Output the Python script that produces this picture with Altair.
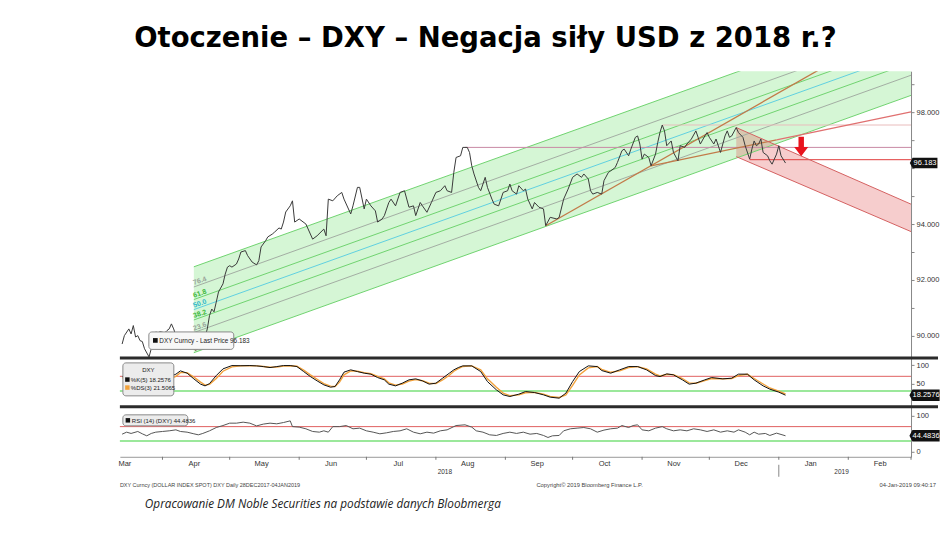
import altair as alt
import pandas as pd
from datetime import datetime, timedelta, timezone

# ---------------- values ----------------
BASE = datetime(2018, 3, 13, tzinfo=timezone.utc)   # left edge of the view (day 0)
END_DAY = 353                                         # right edge (1 Mar 2019)

TITLE = "Otoczenie – DXY – Negacja siły USD z 2018 r.?"
NOTE = "Opracowanie DM Noble Securities  na podstawie danych Bloobmerga"
FOOT_LEFT = "DXY Curncy (DOLLAR INDEX SPOT) DXY  Daily 28DEC2017-04JAN2019"
FOOT_MID = "Copyright© 2019 Bloomberg Finance L.P."
FOOT_RIGHT = "04-Jan-2019 09:40:17"

# DXY close: (days after 13 Mar 2018, price)
price_points = [
    (1, 89.71), (2, 90.01), (4, 90.25), (5, 90.07), (6, 90.37), (7, 89.96), (8, 90.01), (9, 89.83),
    (10, 89.80), (11, 89.54), (13, 89.25), (14, 89.54), (15, 90.01), (16, 90.14), (17, 90.11),
    (18, 90.15), (20, 90.11), (21, 90.19), (22, 90.25), (23, 90.43), (24, 90.25), (25, 90.01),
    (27, 89.83), (28, 89.65), (30, 89.61), (31, 89.65), (33, 89.54), (34, 89.48), (36, 89.65),
    (37, 89.61), (38, 89.96), (39, 90.25), (40, 90.73), (41, 90.96), (42, 90.86), (43, 91.21),
    (44, 91.57), (46, 91.86), (47, 92.21), (48, 92.46), (49, 92.51), (50, 92.46), (52, 92.57),
    (53, 92.75), (54, 93.00), (56, 93.05), (57, 92.87), (59, 92.64), (61, 92.54), (62, 92.69),
    (63, 93.18), (65, 93.40), (66, 93.54), (68, 93.64), (69, 93.71), (71, 93.86), (72, 93.82),
    (73, 94.07), (74, 94.43), (76, 94.65), (77, 94.83),
    (78, 94.07), (80, 94.18), (83, 94.00), (86, 93.46), (88, 93.58), (91, 93.82), (92, 93.58),
    (93, 94.89), (95, 94.83), (97, 95.01), (99, 95.13), (100, 94.89), (103, 94.36), (104, 94.65),
    (106, 95.31), (107, 95.31), (109, 94.54), (110, 94.89), (112, 94.65), (114, 94.47),
    (115, 94.07), (117, 94.18), (118, 94.30), (120, 94.77), (121, 94.89), (123, 94.65),
    (125, 95.13), (127, 95.19), (129, 94.60), (131, 94.65), (132, 94.30), (134, 94.77),
    (135, 94.65), (137, 94.42), (139, 94.77), (141, 95.13), (143, 95.19), (145, 95.37),
    (146, 95.19), (148, 95.13), (149, 95.85), (150, 96.38), (152, 96.44), (153, 96.74),
    (155, 96.74), (156, 96.56), (157, 96.08), (158, 95.79), (160, 95.31), (161, 95.19),
    (163, 95.67), (164, 95.31), (166, 94.89), (167, 94.71), (169, 94.65), (171, 95.13),
    (173, 95.19), (174, 95.43), (175, 95.19), (177, 95.07), (178, 95.37), (180, 95.19),
    (181, 95.25), (182, 94.89), (184, 94.54), (185, 94.77), (187, 94.60), (189, 94.54),
    (190, 93.94), (192, 94.24), (195, 94.18), (196, 94.24), (198, 94.89), (200, 95.25),
    (202, 95.67), (204, 95.79), (206, 95.67), (207, 95.79), (209, 95.61), (210, 95.19),
    (211, 95.07), (213, 95.13), (215, 95.07), (216, 95.55), (218, 95.85), (219, 95.90),
    (221, 96.02), (222, 96.20), (224, 96.62), (225, 96.68), (227, 96.44), (228, 96.68),
    (230, 97.10), (231, 97.15), (232, 96.86), (233, 96.32), (234, 96.50), (236, 96.38),
    (237, 96.08), (239, 96.50), (240, 96.92), (241, 97.28), (242, 97.54), (243, 97.33),
    (244, 96.80), (246, 96.97), (247, 96.56), (249, 96.26), (250, 96.80), (252, 96.74),
    (253, 96.86), (255, 97.04), (257, 97.33), (258, 97.10), (259, 96.86), (261, 97.15),
    (262, 97.27), (263, 97.10), (265, 96.86), (266, 97.04), (268, 96.56), (270, 97.15),
    (271, 97.33), (272, 97.10), (273, 97.15), (275, 97.45), (276, 97.27), (278, 97.10),
    (279, 96.80), (281, 96.32), (282, 96.68), (283, 96.97), (284, 96.80), (285, 96.86),
    (286, 97.04), (287, 96.56), (289, 96.44), (290, 96.26), (291, 96.14), (293, 96.50),
    (294, 96.80), (295, 96.44), (297, 96.18),
]
LAST_PRICE = "96.183"
LAST_PRICE_VALUE = 96.183

# Stochastic %K(5) and %DS(3)
stoch_days = [1, 7, 13, 19, 25, 27, 30, 33, 36, 38, 40, 43, 46, 50, 54, 58, 61, 64, 67, 70, 73, 76,
              79, 82, 85, 88, 91, 94, 96, 98, 100, 103, 106, 109, 112, 115, 118, 120, 123, 126,
              129, 132, 135, 138, 141, 144, 147, 149, 151, 153, 157, 161, 164, 168, 171, 174,
              178, 181, 185, 189, 192, 196, 199, 202, 205, 209, 213, 215, 219, 223, 227, 231,
              235, 239, 241, 244, 247, 251, 254, 257, 261, 264, 269, 273, 276, 280, 283, 287,
              290, 294, 297]
stoch_k = [70, 58, 40, 62, 75.9, 84.9, 78.6, 63, 48.5, 43.8, 50, 72, 90.4, 99.5, 99, 99.5, 98.6,
           96.7, 94, 96.7, 99.5, 99.5, 96.7, 83, 69.3, 57.5, 46.6, 40.2, 42, 60.3, 81.4, 87.7, 83,
           78.6, 75.9, 66.6, 60.3, 48.5, 43.8, 51.2, 60.3, 63, 57.5, 48.5, 51.2, 64.9, 78.6, 87.7,
           94, 98.6, 98.6, 83, 55.6, 32.9, 19.2, 14.6, 21, 28.2, 25.5, 19.2, 12.8, 10.1, 23.8,
           55.6, 83, 98.6, 96.7, 85.8, 78.6, 87.7, 96.7, 96.7, 87.7, 72, 69.3, 76.7, 74, 60.3,
           48.5, 51.2, 60.3, 66.6, 63, 64.9, 75.9, 75.9, 60.3, 43.8, 34.8, 26.6, 18.26]
stoch_d = [66, 62, 48, 55, 70, 80, 80, 68, 54, 46, 48, 64, 84, 96, 99, 99, 98.5, 97, 95, 95.5, 98,
           99, 97.5, 87, 74, 62, 50, 43, 42, 54, 74, 85, 84, 80, 77, 70, 63, 52, 46, 49, 57, 61,
           58, 51, 50, 60, 73, 84, 91, 97, 98.5, 88, 63, 40, 24, 17, 19, 25, 26, 21, 15, 12, 19,
           45, 74, 93, 97, 89, 81, 85, 94, 96.5, 90, 76, 71, 75, 74.5, 64, 52, 51, 58, 64, 63.5,
           64, 72, 75.5, 64, 49, 38, 29, 21.51]
STOCH_K_LAST = "18.2576"
STOCH_D_LAST = "21.5065"
STOCH_K_LAST_VALUE = 18.2576
STOCH_LEVELS = [70, 30]

# RSI(14)
rsi_points = [
    (1, 49), (3, 54.6), (5, 51), (8, 56.5), (10, 50), (12, 44.4), (14, 51), (16, 54.6), (19, 56.5),
    (22, 58.3), (25, 61), (27, 56.5), (30, 54.6), (33, 50), (35, 47.2), (37, 51), (40, 58.3),
    (43, 67.5), (46, 73), (49, 79.6), (52, 79.6), (55, 82.4), (58, 79.6), (61, 72), (64, 77),
    (67, 79.6), (70, 77.8), (73, 81.4), (76, 86), (77, 70), (80, 68.6), (83, 63.9), (86, 56.5),
    (89, 54.6), (91, 58.3), (93, 54.6), (95, 70), (98, 70), (101, 73), (104, 63.9), (107, 65.8),
    (110, 58.3), (113, 54.6), (116, 50), (119, 52.8), (122, 56.5), (125, 58.3), (128, 63.9),
    (131, 54.6), (134, 50), (137, 54.6), (140, 51.9), (143, 58.3), (146, 61), (149, 70),
    (150, 73), (154, 75), (157, 68.6), (159, 58.3), (162, 54.6), (165, 47.2), (168, 45.4),
    (171, 51), (174, 54.6), (177, 51), (180, 54.6), (183, 49), (186, 51), (189, 45.4),
    (191, 39.8), (193, 44.4), (196, 45.4), (198, 58.3), (201, 63.9), (204, 65.8), (207, 67.5),
    (210, 63.9), (213, 54.6), (216, 60.3), (219, 63.9), (222, 65.8), (224, 73), (227, 67.5),
    (229, 73), (231, 75), (233, 61), (236, 58.3), (239, 65.8), (242, 70), (244, 63.9),
    (247, 58.3), (250, 61), (253, 58.3), (256, 63.9), (259, 61), (262, 56.5), (265, 61),
    (268, 54.6), (271, 58.3), (274, 54.6), (276, 61), (279, 54.6), (281, 47.2), (283, 54.6),
    (285, 49), (288, 51), (290, 45.4), (293, 51.9), (297, 44.48),
]
RSI_LAST = "44.4836"
RSI_LAST_VALUE = 44.4836
RSI_LEVELS = [70, 30]

# Green regression channel with Fibonacci levels
fib_labels = ["0.0", "23.6", "38.2", "50.0", "61.8", "76.4", "100"]
fib_start_day = 33
fib_end_day = 353
fib_start_price = [89.40, 90.12, 90.57, 90.94, 91.30, 91.75, 92.47]
fib_end_price = [98.60, 99.32, 99.77, 100.14, 100.50, 100.95, 101.67]

# Trend lines: start day, start price, end day, end price
trend_start_day = [190, 237, 293]
trend_start_price = [93.94, 96.08, 97.01]
trend_end_day = [353, 293, 353]
trend_end_price = [101.39, 97.01, 98.01]

# Horizontal levels: from day to right edge
level_day = [154, 242, 281]
level_price = [96.74, 97.54, 96.30]

# Red falling channel
red_days = [275, 353]
red_upper = [97.45, 94.71]
red_lower = [96.41, 93.73]

ARROW_DAY = 304
ARROW_PRICE = 96.77

# axis text
month_mid = [(2018, 3), (2018, 4), (2018, 5), (2018, 6), (2018, 7), (2018, 8), (2018, 9),
             (2018, 10), (2018, 11), (2018, 12), (2019, 1), (2019, 2)]
month_start = [(2018, 4), (2018, 5), (2018, 6), (2018, 7), (2018, 8), (2018, 9), (2018, 10),
               (2018, 11), (2018, 12), (2019, 1), (2019, 2), (2019, 3)]
year_labels = ["2018", "2019"]
year_label_day = [145, 322]
YEAR_BREAK = (2019, 1)

# ---------------- styles ----------------
W = 792
H_MAIN, H_STO, H_RSI = 287, 49, 50
AXIS_FONT = "Liberation Sans"
fib_colors = ["#6fd36f", "#a3ada3", "#6fd36f", "#5fd0e0", "#6fd36f", "#a3ada3", "#6fd36f"]
fib_label_colors = ["#e08a3c", "#9aa49a", "#3cb83c", "#2fb8cc", "#3cb83c", "#9aa49a", "#ffffff"]
trend_colors = ["#c27a48", "#c27a48", "#e07070"]
level_colors = ["#c98aa5", "#e9bcbc", "#e03c3c"]


def iso(day):
    return (BASE + timedelta(days=day)).strftime("%Y-%m-%dT%H:%M:%SZ")


def ms(dt):
    return int(dt.timestamp() * 1000)


xscale = alt.Scale(type="utc", domain=[ms(BASE), ms(BASE + timedelta(days=END_DAY))])
X_NONE = dict(scale=xscale, axis=None, title=None)

one = pd.DataFrame({"k": [0]})

# ---------------- main panel ----------------
ymain = alt.Scale(domain=[89.214, 99.464], nice=False, zero=False)
ax_main = alt.Axis(orient="right", values=list(range(89, 100)),
                   labelExpr="(datum.value % 2 == 0 && datum.value != 96) ? format(datum.value, '.3f') : ''",
                   tickSize=3, labelFontSize=7.5, labelPadding=2, grid=False, labelOverlap=False,
                   domainColor="#888", tickColor="#888", labelColor="#333", labelFont=AXIS_FONT,
                   title=None)


def YM(field):
    return alt.Y(field, scale=ymain, axis=ax_main, title=None)


green_df = pd.DataFrame({"t": [iso(fib_start_day), iso(fib_end_day)],
                         "lo": [fib_start_price[0], fib_end_price[0]],
                         "hi": [fib_start_price[-1], fib_end_price[-1]]})
green_area = alt.Chart(green_df).mark_area(clip=True, color="#d5f6d5", opacity=1).encode(
    x=alt.X("t:T", **X_NONE), y=YM("lo:Q"), y2="hi:Q")

red_df = pd.DataFrame({"t": [iso(d) for d in red_days], "lo": red_lower, "hi": red_upper})
red_area = alt.Chart(red_df).mark_area(clip=True, color="#e05a5a", opacity=0.3).encode(
    x=alt.X("t:T", **X_NONE), y=YM("lo:Q"), y2="hi:Q")

fib_df = pd.DataFrame({"t0": iso(fib_start_day), "t1": iso(fib_end_day),
                       "p0": fib_start_price, "p1": fib_end_price, "c": fib_colors})
fib_lines = alt.Chart(fib_df).mark_rule(clip=True, strokeWidth=1).encode(
    x=alt.X("t0:T", **X_NONE), x2="t1:T", y=YM("p0:Q"), y2="p1:Q",
    color=alt.Color("c:N", scale=None))

lvl_df = pd.DataFrame({"t0": [iso(d) for d in level_day], "t1": iso(END_DAY),
                       "p": level_price, "c": level_colors})
lvl_lines = alt.Chart(lvl_df).mark_rule(clip=True, strokeWidth=1).encode(
    x=alt.X("t0:T", **X_NONE), x2="t1:T", y=YM("p:Q"), color=alt.Color("c:N", scale=None))

trend_df = pd.DataFrame({"t0": [iso(d) for d in trend_start_day], "p0": trend_start_price,
                         "t1": [iso(d) for d in trend_end_day], "p1": trend_end_price,
                         "c": trend_colors})
trend_lines = alt.Chart(trend_df).mark_rule(clip=True, strokeWidth=1.3).encode(
    x=alt.X("t0:T", **X_NONE), x2="t1:T", y=YM("p0:Q"), y2="p1:Q",
    color=alt.Color("c:N", scale=None))

red_edge_df = pd.DataFrame({"t0": iso(red_days[0]), "t1": iso(red_days[1]),
                            "p0": [red_upper[0], red_lower[0]], "p1": [red_upper[1], red_lower[1]]})
red_edges = alt.Chart(red_edge_df).mark_rule(clip=True, strokeWidth=1, color="#d46060").encode(
    x=alt.X("t0:T", **X_NONE), x2="t1:T", y=YM("p0:Q"), y2="p1:Q")

price_df = pd.DataFrame({"t": [iso(d) for d, _ in price_points], "v": [v for _, v in price_points]})
price_line = alt.Chart(price_df).mark_line(color="#3a3a3a", strokeWidth=1).encode(
    x=alt.X("t:T", **X_NONE), y=YM("v:Q"))

fl_df = pd.DataFrame({"t": iso(fib_start_day + 0.4), "p": fib_start_price[:-1],
                      "label": fib_labels[:-1], "c": fib_label_colors[:-1]})
fib_text = alt.Chart(fl_df).mark_text(align="left", baseline="bottom", angle=341, fontSize=7,
                                      dy=-1, font=AXIS_FONT, fontWeight="bold").encode(
    x=alt.X("t:T", **X_NONE), y=YM("p:Q"), text="label:N", color=alt.Color("c:N", scale=None))

ARROW_PATH = "M-0.28,-1 L0.28,-1 L0.28,0.05 L0.72,0.05 L0,1 L-0.72,0.05 L-0.28,0.05 Z"
arrow_df = pd.DataFrame({"t": [iso(ARROW_DAY)], "p": [ARROW_PRICE]})
arrow = alt.Chart(arrow_df).mark_point(shape=ARROW_PATH, size=380, filled=True, color="#e8141e",
                                       opacity=1).encode(x=alt.X("t:T", **X_NONE), y=YM("p:Q"))

BOX_PATH = "M-1.22,0 L-1,-0.42 L1,-0.42 L1,0.42 L-1,0.42 Z"
pbox_df = pd.DataFrame({"p": [LAST_PRICE_VALUE], "label": [LAST_PRICE]})
pbox = alt.Chart(pbox_df).mark_point(shape=BOX_PATH, size=620, filled=True, color="#111",
                                     opacity=1).encode(x=alt.value(W + 14), y=YM("p:Q"))
pbox_text = alt.Chart(pbox_df).mark_text(color="white", fontSize=7.5, font=AXIS_FONT).encode(
    x=alt.value(W + 14), y=YM("p:Q"), text="label:N")

leg_box = alt.Chart(one).mark_rect(cornerRadius=3, fill="#f7f7f7", stroke="#8a8a8a",
                                   strokeWidth=1).encode(
    x=alt.value(29), x2=alt.value(114), y=alt.value(261), y2=alt.value(278.5))
leg_sq = alt.Chart(one).mark_square(size=22, color="#111", opacity=1).encode(
    x=alt.value(35.5), y=alt.value(269.5))
leg_txt = alt.Chart(one).mark_text(text="DXY Curncy - Last Price  " + LAST_PRICE, align="left",
                                   fontSize=6.4, font=AXIS_FONT, color="#222").encode(
    x=alt.value(39.5), y=alt.value(270))

title = alt.Chart(one).mark_text(text=TITLE, fontSize=27.5, fontWeight="bold", font="DejaVu Sans",
                                 align="center", baseline="middle", color="#000").encode(
    x=alt.value(366), y=alt.value(-32))

main = alt.layer(green_area, red_area, fib_lines, lvl_lines, trend_lines, red_edges, price_line,
                 fib_text, arrow, leg_box, leg_sq, leg_txt, pbox, pbox_text, title).properties(
    width=W, height=H_MAIN)

# ---------------- stochastic panel ----------------
ysto = alt.Scale(domain=[-13.7, 120.5], nice=False, zero=False)
ax_sto = alt.Axis(orient="right", values=[50, 100], tickSize=3, labelFontSize=7.5, labelPadding=2,
                  grid=False, domainColor="#888", tickColor="#888", labelColor="#333",
                  labelFont=AXIS_FONT, title=None)


def YS(field):
    return alt.Y(field, scale=ysto, axis=ax_sto, title=None)


sto_lvl = alt.Chart(pd.DataFrame({"v": STOCH_LEVELS, "c": ["#e06060", "#9be89b"],
                                  "w": [1, 2]})).mark_rule().encode(
    y=YS("v:Q"), color=alt.Color("c:N", scale=None), strokeWidth=alt.StrokeWidth("w:Q", scale=None))
sto_df = pd.DataFrame({"t": [iso(d) for d in stoch_days], "k": stoch_k, "d": stoch_d})
sto_d_line = alt.Chart(sto_df).mark_line(color="#f2a23c", strokeWidth=1.4).encode(
    x=alt.X("t:T", **X_NONE), y=YS("d:Q"))
sto_k_line = alt.Chart(sto_df).mark_line(color="#111", strokeWidth=1).encode(
    x=alt.X("t:T", **X_NONE), y=YS("k:Q"))
sto_bar = alt.Chart(one).mark_rule(strokeWidth=3, color="#2b2b2b").encode(
    x=alt.value(0), x2=alt.value(W + 27), y=alt.value(0))
sto_box = alt.Chart(one).mark_rect(cornerRadius=3, fill="#ececec", stroke="#8a8a8a").encode(
    x=alt.value(3), x2=alt.value(54), y=alt.value(5), y2=alt.value(38))
sto_t0 = alt.Chart(one).mark_text(text="DXY", fontSize=6, font=AXIS_FONT, color="#222").encode(
    x=alt.value(28.5), y=alt.value(12.5))
sto_sq = alt.Chart(pd.DataFrame({"y": [21.7, 29.7], "c": ["#111", "#f2a23c"]})).mark_square(
    size=20, opacity=1).encode(x=alt.value(7.5), y=alt.Y("y:Q", scale=None, axis=None),
                               color=alt.Color("c:N", scale=None))
sto_t1 = alt.Chart(one).mark_text(text="%K(5)    " + STOCH_K_LAST, align="left", fontSize=6,
                                  font=AXIS_FONT, color="#222").encode(
    x=alt.value(11), y=alt.value(22))
sto_t2 = alt.Chart(one).mark_text(text="%DS(3)  " + STOCH_D_LAST, align="left", fontSize=6,
                                  font=AXIS_FONT, color="#222").encode(
    x=alt.value(11), y=alt.value(30))
sbox_df = pd.DataFrame({"p": [STOCH_K_LAST_VALUE], "label": [STOCH_K_LAST]})
sbox = alt.Chart(sbox_df).mark_point(shape=BOX_PATH, size=740, filled=True, color="#111",
                                     opacity=1).encode(x=alt.value(W + 15), y=YS("p:Q"))
sbox_text = alt.Chart(sbox_df).mark_text(color="white", fontSize=7.5, font=AXIS_FONT).encode(
    x=alt.value(W + 15), y=YS("p:Q"), text="label:N")

stoch = alt.layer(sto_lvl, sto_d_line, sto_k_line, sto_box, sto_t0, sto_sq, sto_t1, sto_t2,
                  sbox, sbox_text, sto_bar).properties(width=W, height=H_STO)

# ---------------- RSI panel ----------------
yrsi = alt.Scale(domain=[-13.9, 125], nice=False, zero=False)
ax_rsi = alt.Axis(orient="right", values=[0, 100], tickSize=3, labelFontSize=7.5, labelPadding=2,
                  grid=False, domainColor="#888", tickColor="#888", labelColor="#333",
                  labelFont=AXIS_FONT, title=None)
ax_x = alt.Axis(values=[ms(datetime(y, m, 15, tzinfo=timezone.utc)) for y, m in month_mid],
                format="%b", ticks=False, tickSize=0, labelPadding=3, labelFontSize=7.5,
                labelColor="#333", labelFont=AXIS_FONT, domainColor="#999", grid=False,
                labelOverlap=False, title=None)
X_R = dict(scale=xscale, axis=ax_x, title=None)


def YR(field):
    return alt.Y(field, scale=yrsi, axis=ax_rsi, title=None)


rsi_lvl = alt.Chart(pd.DataFrame({"v": RSI_LEVELS, "c": ["#e06060", "#9be89b"],
                                  "w": [1, 2]})).mark_rule().encode(
    y=YR("v:Q"), color=alt.Color("c:N", scale=None), strokeWidth=alt.StrokeWidth("w:Q", scale=None))
rsi_df = pd.DataFrame({"t": [iso(d) for d, _ in rsi_points], "v": [v for _, v in rsi_points]})
rsi_line = alt.Chart(rsi_df).mark_line(color="#555", strokeWidth=1).encode(
    x=alt.X("t:T", **X_R), y=YR("v:Q"))
rsi_bar = alt.Chart(one).mark_rule(strokeWidth=3, color="#2b2b2b").encode(
    x=alt.value(0), x2=alt.value(W + 27), y=alt.value(0))
rsi_box = alt.Chart(one).mark_rect(cornerRadius=3, fill="#ececec", stroke="#8a8a8a").encode(
    x=alt.value(3), x2=alt.value(68), y=alt.value(8), y2=alt.value(19))
rsi_sq = alt.Chart(one).mark_square(size=20, color="#111", opacity=1).encode(
    x=alt.value(8), y=alt.value(13.5))
rsi_t = alt.Chart(one).mark_text(text="RSI (14) (DXY)  " + RSI_LAST, align="left", fontSize=6,
                                 font=AXIS_FONT, color="#222").encode(
    x=alt.value(12), y=alt.value(14))
rbox_df = pd.DataFrame({"p": [RSI_LAST_VALUE], "label": [RSI_LAST]})
rbox = alt.Chart(rbox_df).mark_point(shape=BOX_PATH, size=740, filled=True, color="#111",
                                     opacity=1).encode(x=alt.value(W + 15), y=YR("p:Q"))
rbox_text = alt.Chart(rbox_df).mark_text(color="white", fontSize=7.5, font=AXIS_FONT).encode(
    x=alt.value(W + 15), y=YR("p:Q"), text="label:N")

mt_df = pd.DataFrame({"t": [iso((datetime(y, m, 1, tzinfo=timezone.utc) - BASE).days)
                            for y, m in month_start]})
month_ticks = alt.Chart(mt_df).mark_rule(color="#777").encode(
    x=alt.X("t:T", **X_R), y=alt.value(H_RSI), y2=alt.value(H_RSI + 3))
yb_df = pd.DataFrame({"t": [iso((datetime(*YEAR_BREAK, 1, tzinfo=timezone.utc) - BASE).days)]})
year_break = alt.Chart(yb_df).mark_rule(color="#888").encode(
    x=alt.X("t:T", **X_R), y=alt.value(H_RSI + 8), y2=alt.value(H_RSI + 20))
yl_df = pd.DataFrame({"t": [iso(d) for d in year_label_day], "label": year_labels})
year_text = alt.Chart(yl_df).mark_text(fontSize=6.5, font=AXIS_FONT, color="#333").encode(
    x=alt.X("t:T", **X_R), y=alt.value(H_RSI + 15), text="label:N")

foot_l = alt.Chart(one).mark_text(text=FOOT_LEFT, align="left", fontSize=5.5, font=AXIS_FONT,
                                  color="#444").encode(x=alt.value(0), y=alt.value(H_RSI + 28))
foot_m = alt.Chart(one).mark_text(text=FOOT_MID, align="left", fontSize=5.8, font=AXIS_FONT,
                                  color="#444").encode(x=alt.value(417), y=alt.value(H_RSI + 28))
foot_r = alt.Chart(one).mark_text(text=FOOT_RIGHT, align="right", fontSize=5.8, font=AXIS_FONT,
                                  color="#444").encode(x=alt.value(W + 25), y=alt.value(H_RSI + 28))
note = alt.Chart(one).mark_text(text=NOTE, align="left", fontSize=11.8, font="Open Sans",
                                fontStyle="italic", color="#222").encode(
    x=alt.value(25), y=alt.value(H_RSI + 47))

rsi = alt.layer(rsi_lvl, rsi_line, rsi_box, rsi_sq, rsi_t, rbox, rbox_text, month_ticks,
                year_break, year_text, foot_l, foot_m, foot_r, note, rsi_bar).properties(
    width=W, height=H_RSI)

chart = alt.vconcat(main, stoch, rsi, spacing=0, bounds="flush").properties(
    padding={"left": 110, "top": 17, "right": 0, "bottom": 0}, background="white"
).configure_view(stroke=None)

chart.save("out.html", embed_options={"renderer": "svg", "actions": False})
